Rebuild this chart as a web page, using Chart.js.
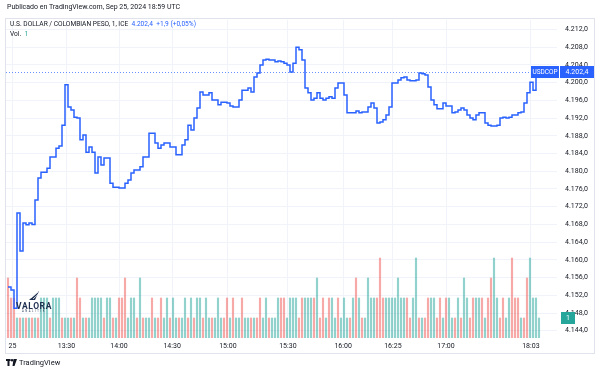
<!DOCTYPE html>
<html>
<head>
<meta charset="utf-8">
<script src="https://cdn.jsdelivr.net/npm/chart.js@4.4.1/dist/chart.umd.min.js"></script>
<style>
  html, body { margin: 0; padding: 0; background: #fff; }
  #lienzo { position: relative; width: 600px; height: 374px; overflow: hidden;
            font-family: Roboto, 'Liberation Sans', sans-serif; color: #131722; }
  #grafico { position: absolute; left: 0; top: 0; }
  .txt { position: absolute; white-space: nowrap; line-height: 1; }
  #publicado { left: 7px; top: 4px; font-size: 7px; }
  #leyenda1 { left: 10px; top: 20.5px; font-size: 6.6px; }
  #leyenda2 { left: 10px; top: 30.5px; font-size: 6.6px; }
  .azul { color: #2962ff; }
  .verde { color: #26a69a; }
  #marca { position: absolute; left: 12px; top: 290px; width: 44px; color: #1d2f4f; text-align: center; }
  #marca .nombre { font-size: 8.5px; font-weight: bold; letter-spacing: 0.6px; line-height: 8px; }
  #marca .sub { font-size: 2.6px; letter-spacing: 1.6px; line-height: 4px; }
  #pie { left: 6px; top: 359px; font-size: 7.5px; color: #131722; }
  #pie svg { vertical-align: -1px; margin-right: 2px; }
</style>
</head>
<body>
<div id="lienzo">
  <canvas id="grafico" width="600" height="374"></canvas>
  <div class="txt" id="publicado">Publicado en TradingView.com, Sep 25, 2024 18:59 UTC</div>
  <div class="txt" id="leyenda1">U.S. DOLLAR / COLOMBIAN PESO, 1, ICE&nbsp; <span class="azul">4.202,4</span>&nbsp; <span class="azul">+1,9 (+0,05%)</span></div>
  <div class="txt" id="leyenda2">Vol.&nbsp; <span class="verde">1</span></div>
  <div id="marca">
    <svg width="12" height="11" viewBox="0 0 12 11" style="display:block;margin:0 auto 1px auto">
      <polygon points="1,10 11,1 7,10" fill="#1d2f4f"/>
      <line x1="3" y1="8" x2="10" y2="2" stroke="#fff" stroke-width="0.8"/>
      <line x1="5" y1="9" x2="10.5" y2="4" stroke="#fff" stroke-width="0.8"/>
    </svg>
    <div class="nombre">VALORA</div>
    <div class="sub">ANALITIK</div>
  </div>
  <div class="txt" id="pie"><svg width="11" height="7" viewBox="0 0 11 7"><rect x="0" y="0" width="4.5" height="2" fill="#131722"/><rect x="1.5" y="0" width="2" height="7" fill="#131722"/><circle cx="6" cy="1.2" r="1.2" fill="#131722"/><polygon points="7.5,0 11,0 8.5,7 6.5,7" fill="#131722"/></svg>TradingView</div>
</div>

<script>
// Datos: USD/COP, velas de 1 minuto, 25 sep 2024
const precio = [
  4153.9, 4153.9, 4153.2, 4149.1, 4170.6, 4162.0, 4168.3, 4167.9, 4168.3, 4168.0,
  4173.5, 4178.5, 4179.8, 4179.8, 4180.7, 4183.2, 4183.2, 4185.2, 4185.7, 4190.4,
  4199.5, 4194.5, 4193.8, 4192.2, 4192.0, 4187.1, 4188.2, 4184.3, 4185.5, 4184.3,
  4179.6, 4183.2, 4181.4, 4183.0, 4183.0, 4177.3, 4176.4, 4176.4, 4176.2, 4176.2,
  4177.3, 4178.0, 4179.6, 4180.3, 4180.3, 4181.0, 4183.2, 4183.2, 4188.6, 4188.6,
  4186.4, 4185.2, 4185.9, 4186.4, 4186.4, 4185.5, 4185.5, 4183.7, 4183.7, 4185.9,
  4187.1, 4190.4, 4189.3, 4192.0, 4194.3, 4197.9, 4197.2, 4197.2, 4197.7, 4196.1,
  4196.1, 4195.0, 4195.6, 4195.6, 4195.4, 4194.7, 4194.5, 4194.5, 4196.1, 4198.3,
  4198.3, 4198.8, 4197.9, 4201.3, 4202.2, 4204.0, 4205.1, 4205.3, 4205.1, 4205.1,
  4204.7, 4204.9, 4204.7, 4204.4, 4204.0, 4202.4, 4204.4, 4208.0, 4207.4, 4205.1,
  4198.8, 4197.7, 4196.1, 4196.5, 4197.7, 4196.5, 4196.1, 4196.5, 4196.8, 4196.5,
  4198.8, 4199.9, 4199.9, 4197.2, 4193.2, 4193.2, 4193.2, 4193.6, 4193.2, 4193.4,
  4193.4, 4194.5, 4195.4, 4194.3, 4190.9, 4191.1, 4191.6, 4192.7, 4194.5, 4199.9,
  4199.9, 4200.6, 4201.1, 4201.3, 4200.6, 4200.4, 4200.4, 4200.6, 4202.2, 4202.0,
  4201.7, 4199.0, 4196.1, 4195.0, 4194.1, 4194.1, 4195.4, 4194.7, 4194.7, 4193.2,
  4193.4, 4193.8, 4194.3, 4193.8, 4192.7, 4192.0, 4191.6, 4192.7, 4193.2, 4193.2,
  4190.9, 4190.4, 4190.2, 4190.2, 4190.4, 4192.0, 4192.2, 4192.0, 4192.2, 4192.7,
  4192.7, 4193.2, 4193.4, 4195.4, 4197.7, 4200.1, 4198.3, 4202.4
];

// Volumen por vela
const volumen = [
  3, 2, 2, 1, 1, 1, 1, 1, 1, 1,
  1, 2, 2, 2, 1, 2, 2, 2, 1, 1,
  1, 1, 1, 3, 2, 1, 1, 1, 2, 2,
  2, 2, 1, 2, 2, 1, 1, 2, 2, 3,
  1, 2, 2, 1, 3, 1, 1, 1, 2, 1,
  1, 2, 1, 2, 1, 2, 1, 1, 1, 2,
  1, 2, 1, 2, 2, 1, 2, 1, 1, 1,
  2, 1, 1, 2, 1, 2, 1, 1, 2, 1,
  1, 1, 1, 1, 2, 1, 2, 1, 1, 1,
  2, 2, 2, 1, 2, 2, 2, 1, 2, 2,
  2, 2, 2, 3, 1, 2, 1, 2, 2, 1,
  2, 1, 2, 1, 1, 2, 3, 2, 1, 1,
  3, 2, 2, 2, 4, 2, 2, 2, 2, 2,
  3, 2, 2, 2, 1, 2, 4, 1, 1, 1,
  2, 2, 2, 1, 2, 1, 2, 2, 1, 1,
  2, 1, 3, 2, 1, 2, 2, 2, 2, 1,
  2, 3, 4, 2, 1, 2, 1, 2, 4, 2,
  2, 1, 1, 3, 4, 2, 2, 1
];

// Vela alcista (1) o bajista (0): decide el color de la barra de volumen
const velaSube = [
  0, 0, 0, 1, 0, 1, 0, 1, 0, 1,
  0, 1, 1, 1, 0, 1, 1, 1, 0, 1,
  1, 0, 1, 0, 0, 1, 0, 1, 1, 1,
  1, 1, 0, 1, 1, 0, 1, 0, 0, 0,
  1, 1, 1, 0, 1, 0, 1, 1, 0, 1,
  0, 0, 1, 1, 0, 1, 1, 0, 1, 1,
  0, 1, 0, 1, 1, 0, 1, 1, 0, 1,
  1, 1, 0, 0, 1, 0, 1, 1, 0, 1,
  1, 0, 1, 0, 0, 1, 1, 0, 1, 1,
  1, 0, 0, 1, 1, 1, 1, 0, 0, 1,
  1, 1, 0, 1, 0, 0, 1, 0, 1, 1,
  0, 1, 1, 1, 0, 1, 0, 1, 0, 1,
  1, 1, 1, 0, 0, 0, 1, 1, 1, 1,
  1, 1, 1, 0, 0, 1, 1, 0, 1, 0,
  0, 1, 1, 0, 0, 1, 0, 1, 1, 0,
  1, 0, 1, 1, 0, 0, 1, 1, 0, 1,
  0, 0, 1, 1, 0, 0, 1, 1, 0, 0,
  0, 1, 0, 0, 1, 1, 1, 1
];

// Etiquetas del eje de tiempo y la vela en que caen
const horaTxt = ['25', '13:30', '14:00', '14:30', '15:00', '15:30', '16:00', '16:25', '17:00', '18:03'];
const horaVela = [1.5, 19.5, 37, 54.7, 73.3, 93.3, 111.7, 128.3, 146, 174.3];

// Marcas del eje de precios
const precioTicks = [4144, 4148, 4152, 4156, 4160, 4164, 4168, 4172, 4176, 4180,
                     4184, 4188, 4192, 4196, 4200, 4204, 4208, 4212];

const ultimoPrecio = precio[precio.length - 1];
const ultimoVol = volumen[volumen.length - 1];

const fuente = "Roboto, 'Liberation Sans', sans-serif";
const azulTV = '#2962ff';
const verdeTV = '#26a69a';
const rejilla = '#f0f3fa';

// Formato colombiano: 4.212,0
function formatoPrecio(v) {
  const partes = v.toFixed(1).split('.');
  const miles = partes[0].replace(/\B(?=(\d{3})+(?!\d))/g, '.');
  return miles + ',' + partes[1];
}

// Línea punteada del último precio, etiquetas USDCOP / precio / volumen y marco
const extras = {
  id: 'extras',
  beforeDatasetsDraw(chart) {
    const { ctx, chartArea, scales } = chart;
    const yp = Math.round(scales.y.getPixelForValue(ultimoPrecio)) + 0.5;
    ctx.save();
    ctx.strokeStyle = 'rgba(41,98,255,0.7)';
    ctx.lineWidth = 1;
    ctx.setLineDash([1, 2]);
    ctx.beginPath();
    ctx.moveTo(chartArea.left, yp);
    ctx.lineTo(chartArea.right, yp);
    ctx.stroke();
    ctx.restore();
  },
  afterDraw(chart) {
    const { ctx, chartArea, scales } = chart;
    const yp = scales.y.getPixelForValue(ultimoPrecio);
    ctx.save();
    // etiqueta del símbolo
    ctx.fillStyle = azulTV;
    ctx.fillRect(chartArea.right - 26, yp - 6, 28, 12);
    ctx.fillRect(chartArea.right + 3, yp - 6, 34, 12);
    ctx.fillStyle = '#fff';
    ctx.textBaseline = 'middle';
    ctx.textAlign = 'center';
    ctx.font = '6.5px ' + fuente;
    ctx.fillText('USDCOP', chartArea.right - 12, yp + 0.5);
    ctx.font = '7px ' + fuente;
    ctx.fillText(formatoPrecio(ultimoPrecio), chartArea.right + 20, yp + 0.5);
    // etiqueta del volumen
    const yv = scales.yVol.getPixelForValue(ultimoVol);
    ctx.fillStyle = verdeTV;
    ctx.fillRect(chartArea.right + 4, yv - 6, 14, 12);
    ctx.fillStyle = '#fff';
    ctx.fillText(String(ultimoVol), chartArea.right + 11, yv + 0.5);
    // marco exterior
    ctx.strokeStyle = '#e0e3eb';
    ctx.lineWidth = 1;
    ctx.strokeRect(5.5, 18.5, 589, 335);
    ctx.restore();
  }
};

new Chart(document.getElementById('grafico').getContext('2d'), {
  data: {
    datasets: [
      {
        type: 'line',
        data: precio.map((p, i) => ({ x: i, y: p })),
        yAxisID: 'y',
        borderColor: azulTV,
        borderWidth: 1.5,
        pointRadius: 0,
        stepped: 'after',
        fill: false,
        order: 0
      },
      {
        type: 'bar',
        data: volumen.map((v, i) => ({ x: i, y: v })),
        yAxisID: 'yVol',
        backgroundColor: velaSube.map(s => s ? 'rgba(38,166,154,0.5)' : 'rgba(239,83,80,0.5)'),
        barThickness: 1.5,
        order: 1
      }
    ]
  },
  options: {
    responsive: false,
    animation: false,
    layout: { padding: { left: 6, top: 20, right: 11, bottom: 21 } },
    plugins: { legend: { display: false }, tooltip: { enabled: false } },
    scales: {
      x: {
        type: 'linear',
        offset: false,
        min: -0.667,
        max: 183,
        grid: { color: rejilla, drawTicks: false, offset: false },
        border: { display: false },
        afterBuildTicks: s => { s.ticks = horaVela.map(v => ({ value: v })); },
        afterFit: s => { s.height = 15; },
        ticks: {
          callback: (v, i) => horaTxt[i],
          autoSkip: false,
          maxRotation: 0,
          padding: 4,
          color: '#131722',
          font: { size: 7, family: fuente }
        }
      },
      y: {
        position: 'right',
        min: 4142.36,
        max: 4214.14,
        grid: { color: rejilla, drawTicks: false },
        border: { display: false },
        afterBuildTicks: s => { s.ticks = precioTicks.map(v => ({ value: v })); },
        afterFit: s => { s.width = 32; },
        ticks: {
          callback: v => formatoPrecio(v),
          padding: 8,
          color: '#131722',
          font: { size: 7, family: fuente }
        }
      },
      yVol: {
        display: false,
        min: 0,
        max: 15.9
      }
    }
  },
  plugins: [extras]
});
</script>
</body>
</html>
